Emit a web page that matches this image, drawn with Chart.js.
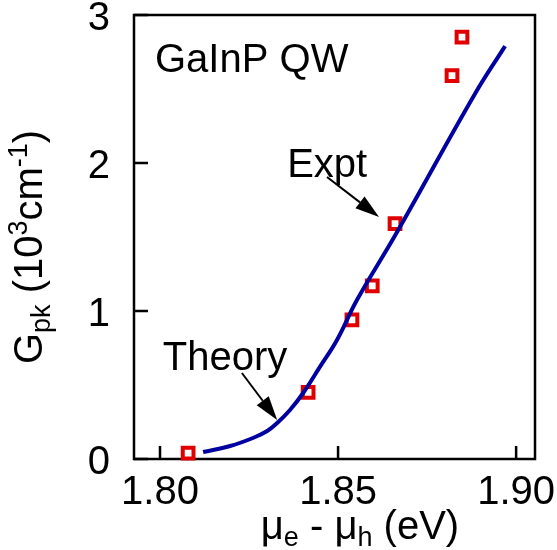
<!DOCTYPE html>
<html><head><meta charset="utf-8">
<script src="https://cdn.jsdelivr.net/npm/chart.js@4"></script>
<style>html,body{margin:0;padding:0;background:#fff}</style>
</head><body>
<canvas id="c" width="557" height="550" style="width:557px;height:550px;display:block"></canvas>
<script>
// ---- data ----
const theoryX = [1.8121, 1.8197, 1.8261, 1.8301, 1.8329, 1.8365, 1.8402, 1.8449, 1.8497, 1.8553, 1.8660, 1.8885, 1.8969];
const theoryY = [0.047, 0.088, 0.142, 0.189, 0.243, 0.331, 0.446, 0.622, 0.804, 1.074, 1.51, 2.47, 2.79];
const exptX = [1.8079, 1.8416, 1.8539, 1.8596, 1.8660, 1.8820, 1.8848];
const exptY = [0.04, 0.45, 0.94, 1.17, 1.59, 2.59, 2.85];
const xTickValues = [1.80, 1.85, 1.90];
const yTickValues = [0, 1, 2, 3];
const xTickLabels = ["1.80", "1.85", "1.90"];
const yTickLabels = ["0", "1", "2", "3"];
const xRange = [1.7927, 1.9053];
const yRange = [0, 3];
const sampleLabel = "GaInP QW";
const theoryLabel = "Theory";
const exptLabel = "Expt";

const FONT = '"Liberation Sans", Arial, Helvetica, sans-serif';

function drawRich(ctx, segs, x, y) {
  let w = 0;
  segs.forEach(g => { ctx.font = g.s + 'px ' + FONT; g.w = ctx.measureText(g.t).width; w += g.w; });
  let cx = x - w / 2;
  segs.forEach(g => { ctx.font = g.s + 'px ' + FONT; ctx.fillText(g.t, cx, y + g.dy); cx += g.w; });
}
function arrow(ctx, x1, y1, x2, y2) {
  const a = Math.atan2(y2 - y1, x2 - x1), L = 24, H = 7.5;
  const bx = x2 - L * Math.cos(a), by = y2 - L * Math.sin(a);
  ctx.beginPath(); ctx.moveTo(x1, y1); ctx.lineTo(bx, by);
  ctx.lineWidth = 2; ctx.strokeStyle = '#000'; ctx.stroke();
  ctx.beginPath(); ctx.moveTo(x2, y2);
  ctx.lineTo(bx + H * Math.sin(a), by - H * Math.cos(a));
  ctx.lineTo(bx - H * Math.sin(a), by + H * Math.cos(a));
  ctx.closePath(); ctx.fillStyle = '#000'; ctx.fill();
}

const deco = {
  id: 'deco',
  beforeDatasetsDraw(chart) {
    const ctx = chart.ctx, a = chart.chartArea, xs = chart.scales.x, ys = chart.scales.y;
    ctx.save();
    ctx.strokeStyle = '#000'; ctx.lineWidth = 2.5;
    ctx.strokeRect(a.left, a.top, a.right - a.left, a.bottom - a.top);
    ctx.beginPath();
    xTickValues.forEach(v => { const p = xs.getPixelForValue(v); ctx.moveTo(p, a.bottom); ctx.lineTo(p, a.bottom - 13); });
    yTickValues.forEach(v => { const p = ys.getPixelForValue(v); ctx.moveTo(a.left, p); ctx.lineTo(a.left + 14, p); });
    ctx.stroke();
    ctx.restore();
  },
  afterDraw(chart) {
    const ctx = chart.ctx, xs = chart.scales.x, ys = chart.scales.y;
    const X = v => xs.getPixelForValue(v), Y = v => ys.getPixelForValue(v);
    ctx.save();
    ctx.fillStyle = '#000'; ctx.textBaseline = 'alphabetic'; ctx.textAlign = 'left';
    ctx.font = '40px ' + FONT;
    ctx.fillText(sampleLabel, X(1.7986), Y(2.615));
    ctx.fillText(exptLabel, X(1.8357), Y(1.905));
    ctx.fillText(theoryLabel, X(1.8008), Y(0.601));
    arrow(ctx, X(1.8469), Y(1.905), X(1.8615), Y(1.635));
    arrow(ctx, X(1.8230), Y(0.581), X(1.8329), Y(0.264));
    // x title
    drawRich(ctx, [
      { t: 'μ', s: 40, dy: 0 }, { t: 'e', s: 27, dy: 7 }, { t: ' - ', s: 40, dy: 0 },
      { t: 'μ', s: 40, dy: 0 }, { t: 'h', s: 27, dy: 7 }, { t: ' (eV)', s: 40, dy: 0 }
    ], 360, 539);
    // y title
    ctx.translate(42, 247); ctx.rotate(-Math.PI / 2);
    drawRich(ctx, [
      { t: 'G', s: 40, dy: 0 }, { t: 'pk', s: 27, dy: 8 }, { t: ' (10', s: 40, dy: 0 },
      { t: '3', s: 27, dy: -15 }, { t: 'cm', s: 40, dy: 0 }, { t: '-1', s: 27, dy: -15 }, { t: ')', s: 40, dy: 0 }
    ], 0, 0);
    ctx.restore();
  }
};

new Chart(document.getElementById('c'), {
  type: 'scatter',
  data: {
    datasets: [
      {
        label: 'Theory',
        data: theoryX.map((x, i) => ({ x, y: theoryY[i] })),
        showLine: true, pointRadius: 0, borderColor: '#0000a0', borderWidth: 4,
        tension: 0.4, fill: false, clip: false
      },
      {
        label: 'Expt',
        data: exptX.map((x, i) => ({ x, y: exptY[i] })),
        showLine: false, pointStyle: 'rect', pointRadius: 7.6, borderWidth: 4,
        borderColor: '#e00000', backgroundColor: '#ffffff', clip: false
      }
    ]
  },
  options: {
    responsive: false, animation: false, devicePixelRatio: 1,
    layout: { padding: { top: 15, right: 22, left: 0, bottom: 0 } },
    plugins: { legend: { display: false }, tooltip: { enabled: false } },
    scales: {
      x: {
        type: 'linear', min: xRange[0], max: xRange[1],
        grid: { display: false }, border: { display: false },
        afterBuildTicks: s => { s.ticks = xTickValues.map(v => ({ value: v })); },
        afterFit: s => { s.height = 91; s.paddingLeft = 0; s.paddingRight = 0; },
        ticks: {
          padding: 2, color: '#000', font: { family: FONT, size: 40 }, maxRotation: 0, autoSkip: false,
          callback: v => xTickLabels[xTickValues.findIndex(t => Math.abs(t - v) < 1e-6)]
        }
      },
      y: {
        type: 'linear', min: yRange[0], max: yRange[1],
        grid: { display: false }, border: { display: false },
        afterBuildTicks: s => { s.ticks = yTickValues.map(v => ({ value: v })); },
        afterFit: s => { s.width = 134; s.paddingTop = 0; s.paddingBottom = 0; },
        ticks: {
          padding: 16, labelOffset: 4, color: '#000', font: { family: FONT, size: 40 }, autoSkip: false,
          callback: v => yTickLabels[yTickValues.findIndex(t => Math.abs(t - v) < 1e-6)]
        }
      }
    }
  },
  plugins: [deco]
});
</script>
</body></html>
